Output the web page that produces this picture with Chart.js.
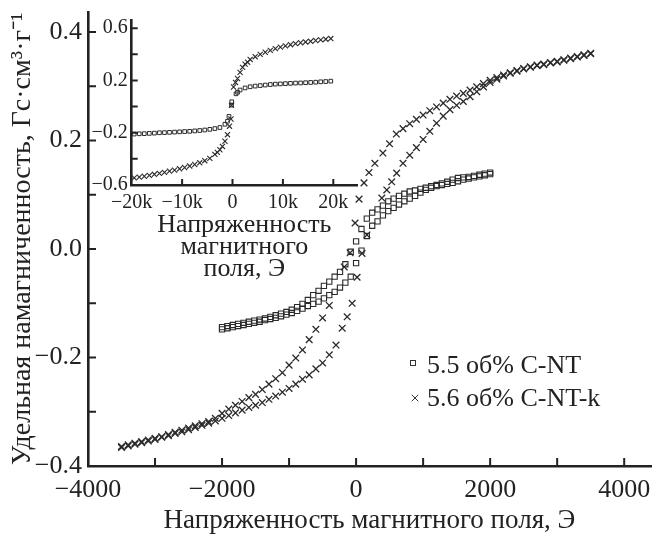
<!DOCTYPE html>
<html>
<head>
<meta charset="utf-8">
<script src="https://cdn.jsdelivr.net/npm/chart.js@4.4.0/dist/chart.umd.min.js"></script>
<style>
  html, body { margin: 0; padding: 0; background: #fff; }
  #wrap { position: relative; width: 657px; height: 540px; }
  #main { position: absolute; left: 0; top: 0; }
  #inset { position: absolute; left: 80px; top: 0; }
</style>
</head>
<body>
<div id="wrap">
  <canvas id="main" width="657" height="540"></canvas>
  <canvas id="inset" width="290" height="290"></canvas>
</div>
<script>
// --- основной график: 5.5 об% C-NT (квадраты), две ветви петли
const cntX = [-2000,-1920,-1840,-1760,-1680,-1600,-1520,-1440,-1360,-1280,-1200,-1120,-1040,-960,-880,-800,-720,-640,-560,-480,-400,-320,-240,-160,-80,0,80,160,240,320,400,480,560,640,720,800,880,960,1040,1120,1200,1280,1360,1440,1520,1600,1680,1760,1840,1920,2000];
const cntDownY = [-0.144,-0.142,-0.140,-0.138,-0.136,-0.134,-0.132,-0.130,-0.128,-0.125,-0.122,-0.119,-0.116,-0.112,-0.107,-0.101,-0.094,-0.085,-0.077,-0.068,-0.060,-0.051,-0.042,-0.028,-0.005,0.014,0.037,0.056,0.067,0.073,0.080,0.088,0.093,0.098,0.102,0.106,0.108,0.111,0.113,0.116,0.118,0.121,0.124,0.128,0.131,0.132,0.133,0.135,0.137,0.139,0.141];
const cntUpY = [-0.148,-0.146,-0.144,-0.142,-0.140,-0.138,-0.136,-0.134,-0.131,-0.129,-0.127,-0.124,-0.121,-0.118,-0.114,-0.110,-0.105,-0.101,-0.097,-0.091,-0.085,-0.079,-0.071,-0.062,-0.051,-0.026,-0.003,0.024,0.043,0.051,0.062,0.070,0.076,0.082,0.088,0.093,0.098,0.104,0.109,0.113,0.116,0.118,0.120,0.122,0.125,0.128,0.130,0.132,0.134,0.136,0.138];

// --- 5.6 об% C-NT-k (крестики)
const kUpX = [-3500,-3400,-3300,-3200,-3100,-3000,-2900,-2800,-2700,-2600,-2500,-2400,-2300,-2200,-2100,-2000,-1900,-1800,-1700,-1600,-1500,-1400,-1300,-1200,-1100,-1000,-900,-800,-700,-600,-500,-400,-300,
  -207,-133,-59,15,89,-15,44,118,
  192,280,400,500,600,700,800,900,1000,1100,1200,1300,1400,1500,1600,1700,1800,1900,2000,2100,2200,2300,2400,2500,2600,2700,2800,2900,3000,3100,3200,3300,3400,3500];
const kUpY = [-0.366,-0.363,-0.360,-0.357,-0.354,-0.351,-0.347,-0.344,-0.340,-0.337,-0.333,-0.329,-0.325,-0.321,-0.317,-0.312,-0.307,-0.302,-0.297,-0.292,-0.288,-0.283,-0.277,-0.271,-0.264,-0.257,-0.249,-0.240,-0.232,-0.221,-0.210,-0.195,-0.177,
  -0.146,-0.125,-0.100,-0.052,-0.008,0.048,0.092,0.122,
  0.141,0.158,0.177,0.194,0.212,0.222,0.231,0.239,0.247,0.255,0.262,0.269,0.276,0.282,0.287,0.293,0.299,0.305,0.311,0.316,0.321,0.325,0.329,0.333,0.336,0.339,0.341,0.344,0.346,0.349,0.352,0.355,0.358,0.361];
const kDownX = [-3500,-3400,-3300,-3200,-3100,-3000,-2900,-2800,-2700,-2600,-2500,-2400,-2300,-2200,-2100,-2000,-1900,-1800,-1700,-1600,-1500,-1400,-1300,-1200,-1100,-1000,-900,-800,-700,-600,-500,-400,
  -177,-89,162,
  384,458,531,605,700,800,900,1000,1100,1200,1300,1400,1500,1600,1700,1800,1900,2000,2100,2200,2300,2400,2500,2600,2700,2800,2900,3000,3100,3200,3300,3400,3500];
const kDownY = [-0.364,-0.361,-0.358,-0.355,-0.352,-0.349,-0.346,-0.342,-0.338,-0.334,-0.330,-0.326,-0.322,-0.318,-0.312,-0.303,-0.295,-0.288,-0.281,-0.274,-0.268,-0.259,-0.249,-0.239,-0.228,-0.214,-0.201,-0.186,-0.167,-0.148,-0.127,-0.104,
  -0.033,-0.007,0.026,
  0.094,0.109,0.124,0.140,0.158,0.173,0.187,0.202,0.217,0.232,0.245,0.257,0.265,0.272,0.281,0.290,0.299,0.307,0.313,0.319,0.324,0.328,0.332,0.335,0.338,0.340,0.343,0.345,0.348,0.351,0.354,0.357,0.360];

// --- вставка: полный диапазон поля
const insKX = [-19500,-18500,-17500,-16500,-15500,-14500,-13500,-12500,-11500,-10500,-9500,-8500,-7500,-6500,-5500,-4500,-3500,-3000,-2500,-2000,-1500,-1000,-600,-300,-200,200,600,1000,1500,2000,2500,3000,3500,4500,5500,6500,7500,8500,9500,10500,11500,12500,13500,14500,15500,16500,17500,18500,19500];
const insKY = [-0.545,-0.540,-0.533,-0.526,-0.518,-0.511,-0.503,-0.494,-0.486,-0.476,-0.466,-0.455,-0.443,-0.430,-0.414,-0.396,-0.366,-0.350,-0.330,-0.305,-0.265,-0.215,-0.150,-0.095,0.010,0.150,0.185,0.215,0.262,0.300,0.325,0.340,0.361,0.382,0.400,0.416,0.430,0.444,0.455,0.465,0.474,0.482,0.489,0.495,0.500,0.506,0.511,0.516,0.521];
const insCX = [-19500,-18500,-17500,-16500,-15500,-14500,-13500,-12500,-11500,-10500,-9500,-8500,-7500,-6500,-5500,-4500,-3500,-2500,-1500,-1000,-700,-200,-150,700,1000,1500,2500,3500,4500,5500,6500,7500,8500,9500,10500,11500,12500,13500,14500,15500,16500,17500,18500,19500];
const insCY = [-0.210,-0.208,-0.207,-0.205,-0.203,-0.200,-0.199,-0.197,-0.195,-0.193,-0.191,-0.189,-0.186,-0.183,-0.179,-0.174,-0.168,-0.160,-0.135,-0.112,-0.075,0.012,0.037,0.098,0.110,0.127,0.143,0.152,0.157,0.161,0.165,0.169,0.172,0.174,0.176,0.178,0.180,0.181,0.183,0.185,0.187,0.190,0.192,0.195];

// деления осей
const mainXTicks = [-4000,-3000,-2000,-1000,0,1000,2000,3000,4000];
const mainXLabeled = [-4000,-2000,0,2000,4000];
const mainYTicks = [-0.4,-0.3,-0.2,-0.1,0,0.1,0.2,0.3,0.4];
const mainYLabeled = [-0.4,-0.2,0,0.2,0.4];
const insXTicks = [-20000,-10000,0,10000,20000];
const insYTicks = [-0.6,-0.4,-0.2,0,0.2,0.4,0.6];
const insYLabeled = [-0.6,-0.2,0.2,0.6];

const FONT = 'Liberation Serif';
const INK = '#222';

function pts(xs, ys) { return xs.map((x, i) => ({x: x, y: ys[i]})); }
function minus(s) { return s.replace('-', '\u2212'); }
function has(list, v) { return list.some(t => Math.abs(t - v) < 1e-9); }

// короткие деления внутрь области графика
const innerTicks = {
  id: 'innerTicks',
  afterDraw(chart, args, opts) {
    const {ctx, chartArea: a, scales} = chart;
    ctx.save();
    ctx.strokeStyle = INK;
    ctx.lineWidth = opts.width;
    ctx.beginPath();
    scales.x.ticks.forEach(t => {
      const px = scales.x.getPixelForValue(t.value);
      if (px - a.left < 2) return;
      ctx.moveTo(px, a.bottom);
      ctx.lineTo(px, a.bottom - opts.length);
    });
    scales.y.ticks.forEach(t => {
      const py = scales.y.getPixelForValue(t.value);
      if (a.bottom - py < 2) return;
      ctx.moveTo(a.left, py);
      ctx.lineTo(a.left + opts.length, py);
    });
    ctx.stroke();
    ctx.restore();
  }
};

// подписи образцов справа внизу
const sampleLegend = {
  id: 'sampleLegend',
  afterDraw(chart, args, opts) {
    const ctx = chart.ctx;
    ctx.save();
    ctx.font = opts.size + 'px "' + FONT + '"';
    ctx.fillStyle = INK;
    ctx.strokeStyle = '#333';
    ctx.lineWidth = 1;
    chart.data.datasets.forEach((ds, i) => {
      if (!ds.label) return;
      const r = opts.rows[ds.label];
      if (ds.pointStyle === 'rect') {
        ctx.strokeRect(r.mx - 2.5, r.my - 2.5, 5, 5);
      } else {
        ctx.beginPath();
        ctx.moveTo(r.mx - 3.2, r.my - 3.2); ctx.lineTo(r.mx + 3.2, r.my + 3.2);
        ctx.moveTo(r.mx - 3.2, r.my + 3.2); ctx.lineTo(r.mx + 3.2, r.my - 3.2);
        ctx.stroke();
      }
      ctx.fillText(ds.label, r.tx, r.ty);
    });
    ctx.restore();
  }
};

function axis(opts) {
  return {
    type: 'linear',
    min: opts.min,
    max: opts.max,
    afterBuildTicks: s => { s.ticks = opts.ticks.map(v => ({value: v})); },
    afterFit: s => {
      if (opts.height) s.height = opts.height;
      if (opts.width) s.width = opts.width;
      s.paddingLeft = 0; s.paddingRight = 0; s.paddingTop = 0; s.paddingBottom = 0;
    },
    grid: {display: true, drawOnChartArea: false, drawTicks: false},
    border: {display: true, color: INK, width: 2.6},
    ticks: {
      autoSkip: false, maxRotation: 0, padding: opts.pad, color: INK,
      font: {family: FONT, size: opts.size},
      callback: opts.label
    },
    title: opts.title
  };
}

new Chart(document.getElementById('main'), {
  type: 'scatter',
  data: {
    datasets: [
      {label: '5.5 об% C-NT', data: pts(cntX, cntDownY).concat(pts(cntX, cntUpY)),
       pointStyle: 'rect', pointRadius: 3.7, borderColor: '#2a2a2a', backgroundColor: 'rgba(0,0,0,0)', borderWidth: 1.1},
      {label: '5.6 об% C-NT-k', data: pts(kUpX, kUpY).concat(pts(kDownX, kDownY)),
       pointStyle: 'crossRot', pointRadius: 4.7, borderColor: '#2a2a2a', borderWidth: 1.3}
    ]
  },
  options: {
    responsive: false,
    animation: false,
    layout: {padding: {top: 12, right: 0, left: 0, bottom: 0}},
    plugins: {
      legend: {display: false},
      tooltip: {enabled: false},
      innerTicks: {length: 8, width: 2},
      sampleLegend: {size: 26, rows: {
        '5.5 об% C-NT': {mx: 413, my: 363, tx: 427, ty: 373},
        '5.6 об% C-NT-k': {mx: 415, my: 398, tx: 427, ty: 406}
      }}
    },
    scales: {
      x: axis({min: -4000, max: 4400, ticks: mainXTicks, height: 74, pad: 9, size: 26,
        label: v => has(mainXLabeled, v) ? minus(String(v)) : '',
        title: {display: true, text: 'Напряженность магнитного поля, Э', color: INK,
          font: {family: FONT, size: 27}, padding: {top: 0, bottom: 3}}}),
      y: axis({min: -0.4, max: 0.437, ticks: mainYTicks, width: 88, pad: 6, size: 26,
        label: v => has(mainYLabeled, v) ? minus(v.toFixed(1)) : '',
        title: {display: true, text: 'Удельная намагниченность, Гс·см³·г⁻¹', color: INK,
          font: {family: FONT, size: 28}, padding: {top: 6, bottom: 0}}})
    }
  },
  plugins: [innerTicks, sampleLegend]
});

new Chart(document.getElementById('inset'), {
  type: 'scatter',
  data: {
    datasets: [
      {label: '', data: pts(insCX, insCY), pointStyle: 'rect', pointRadius: 2.6,
       borderColor: '#2a2a2a', backgroundColor: 'rgba(0,0,0,0)', borderWidth: 1},
      {label: '', data: pts(insKX, insKY), pointStyle: 'crossRot', pointRadius: 3.6,
       borderColor: '#2a2a2a', borderWidth: 1.1}
    ]
  },
  options: {
    responsive: false,
    animation: false,
    layout: {padding: {top: 20, right: 13, left: 0, bottom: 0}},
    plugins: {
      legend: {display: false},
      tooltip: {enabled: false},
      innerTicks: {length: 6, width: 2}
    },
    scales: {
      x: axis({min: -20000, max: 24700, ticks: insXTicks, height: 105, pad: 6, size: 20,
        label: v => v === 0 ? '0' : minus((v / 1000) + 'k'),
        title: {display: true, text: ['Напряженность', 'магнитного', 'поля, Э'], color: INK,
          font: {family: FONT, size: 26, lineHeight: '22px'}, padding: {top: 0, bottom: 10}}}),
      y: axis({min: -0.6, max: 0.663, ticks: insYTicks, width: 51.7, pad: 4, size: 20,
        label: v => has(insYLabeled, v) ? minus(v.toFixed(1)) : '',
        title: {display: false}})
    }
  },
  plugins: [innerTicks]
});
</script>
</body>
</html>
